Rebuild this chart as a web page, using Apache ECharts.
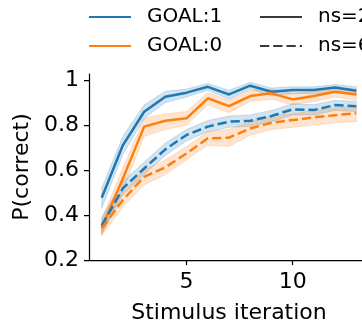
<!DOCTYPE html>
<html>
<head>
<meta charset="utf-8">
<script src="https://cdn.jsdelivr.net/npm/echarts@6/dist/echarts.min.js"></script>
<style>html,body{margin:0;padding:0;background:#fff}#c{width:362px;height:323px}</style>
</head>
<body>
<div id="c"></div>
<script>
const iterations = [1,2,3,4,5,6,7,8,9,10,11,12,13];

const goal1_ns2_mean  = [0.477,0.711,0.859,0.926,0.944,0.970,0.936,0.975,0.948,0.956,0.956,0.967,0.953];
const goal1_ns2_lower = [0.430,0.670,0.830,0.900,0.925,0.955,0.915,0.960,0.930,0.940,0.940,0.950,0.935];
const goal1_ns2_upper = [0.520,0.750,0.890,0.950,0.960,0.985,0.955,0.990,0.965,0.970,0.970,0.980,0.970];

const goal0_ns2_mean  = [0.344,0.563,0.793,0.819,0.830,0.919,0.884,0.929,0.941,0.914,0.929,0.948,0.936];
const goal0_ns2_lower = [0.310,0.510,0.750,0.780,0.800,0.890,0.855,0.905,0.915,0.890,0.905,0.925,0.910];
const goal0_ns2_upper = [0.380,0.610,0.830,0.850,0.860,0.945,0.910,0.955,0.960,0.940,0.950,0.970,0.960];

const goal1_ns6_mean  = [0.353,0.519,0.607,0.692,0.756,0.793,0.815,0.819,0.840,0.870,0.867,0.889,0.884];
const goal1_ns6_lower = [0.320,0.490,0.580,0.665,0.730,0.770,0.790,0.795,0.815,0.845,0.845,0.865,0.860];
const goal1_ns6_upper = [0.390,0.550,0.635,0.720,0.780,0.820,0.840,0.845,0.865,0.895,0.890,0.910,0.905];

const goal0_ns6_mean  = [0.341,0.467,0.570,0.612,0.674,0.741,0.744,0.785,0.810,0.822,0.834,0.844,0.852];
const goal0_ns6_lower = [0.310,0.435,0.535,0.580,0.645,0.710,0.705,0.755,0.780,0.790,0.800,0.810,0.815];
const goal0_ns6_upper = [0.370,0.500,0.600,0.645,0.705,0.770,0.780,0.815,0.840,0.850,0.865,0.875,0.885];

const xTicks = [5, 10];
const yTicks = [0.2, 0.4, 0.6, 0.8, 1];
const legendGoal = ['GOAL:1', 'GOAL:0'];
const legendNs = ['ns=2', 'ns=6'];

const BLUE = '#1f77b4', ORANGE = '#ff7f0e', DARK = '#3a3a3a';
const FONT = 'DejaVu Sans';
const DASH = [9.25, 4];

function band(id, lower, upper, color) {
  return {
    type: 'custom', name: id, silent: true, z: 1,
    data: [0],
    encode: { x: -1, y: -1 },
    renderItem: function (params, api) {
      const pts = [];
      for (let i = 0; i < iterations.length; i++) pts.push(api.coord([iterations[i], upper[i]]));
      for (let i = iterations.length - 1; i >= 0; i--) pts.push(api.coord([iterations[i], lower[i]]));
      return {
        type: 'polygon',
        shape: { points: pts },
        style: { fill: color, opacity: 0.2, stroke: color, lineWidth: 1 }
      };
    }
  };
}
function line(name, mean, color, dashed) {
  return { type: 'line', name: name, symbol: 'none', silent: true,
    data: iterations.map((x, i) => [x, mean[i]]),
    lineStyle: { color: color, width: 2.5, type: dashed ? DASH : 'solid' }, z: 3 };
}
function dummy(name, color, dashed) {
  return { type: 'line', name: name, symbol: 'none', data: [],
    itemStyle: { color: color },
    lineStyle: { color: color, width: 2.5, type: dashed ? DASH : 'solid' } };
}

const series = [
  band('b1', goal1_ns2_lower, goal1_ns2_upper, BLUE),
  band('b2', goal0_ns2_lower, goal0_ns2_upper, ORANGE),
  band('b3', goal1_ns6_lower, goal1_ns6_upper, BLUE),
  band('b4', goal0_ns6_lower, goal0_ns6_upper, ORANGE),
  line('g1n2', goal1_ns2_mean, BLUE, false),
  line('g0n2', goal0_ns2_mean, ORANGE, false),
  line('g1n6', goal1_ns6_mean, BLUE, true),
  line('g0n6', goal0_ns6_mean, ORANGE, true),
  dummy(legendGoal[0], BLUE, false),
  dummy(legendGoal[1], ORANGE, false),
  dummy(legendNs[0], DARK, false),
  dummy(legendNs[1], DARK, true)
];

const legendCommon = {
  orient: 'vertical', top: 2, itemWidth: 42, itemHeight: 20, itemGap: 9,
  selectedMode: false,
  itemStyle: { color: 'transparent', borderColor: 'transparent', borderWidth: 0 },
  textStyle: { fontFamily: FONT, fontSize: 20, color: '#000', padding: [0, 0, 0, 11] }
};

const chart = echarts.init(document.getElementById('c'), null, { renderer: 'canvas' });
chart.setOption({
  animation: false,
  backgroundColor: '#fff',
  grid: { left: 89, right: -7, top: 74, bottom: 63, containLabel: false, outerBoundsMode: 'none' },
  legend: [
    Object.assign({}, legendCommon, { left: 83, data: legendGoal }),
    Object.assign({}, legendCommon, { left: 254, data: legendNs })
  ],
  xAxis: {
    type: 'value', min: 0.4, max: 13.6,
    name: 'Stimulus iteration', nameLocation: 'middle', nameGap: 42,
    nameTextStyle: { fontFamily: FONT, fontSize: 22, color: '#000' },
    splitLine: { show: false },
    axisLine: { show: true, lineStyle: { color: '#000', width: 1.25 } },
    axisTick: { show: true, length: 5, customValues: xTicks, lineStyle: { color: '#000', width: 1.25 } },
    axisLabel: { customValues: xTicks, fontFamily: FONT, fontSize: 22, color: '#000', margin: 11 }
  },
  yAxis: {
    type: 'value', min: 0.2, max: 1.027,
    name: 'P(correct)', nameLocation: 'middle', nameGap: 50,
    nameTextStyle: { fontFamily: FONT, fontSize: 22, color: '#000' },
    splitLine: { show: false },
    axisLine: { show: true, lineStyle: { color: '#000', width: 1.25 } },
    axisTick: { show: true, length: 5, customValues: yTicks, lineStyle: { color: '#000', width: 1.25 } },
    axisLabel: { customValues: yTicks, fontFamily: FONT, fontSize: 22, color: '#000', margin: 10,
      formatter: v => (Math.abs(v - 1) < 1e-9 ? '1' : v.toFixed(1)) }
  },
  series: series
});
</script>
</body>
</html>
